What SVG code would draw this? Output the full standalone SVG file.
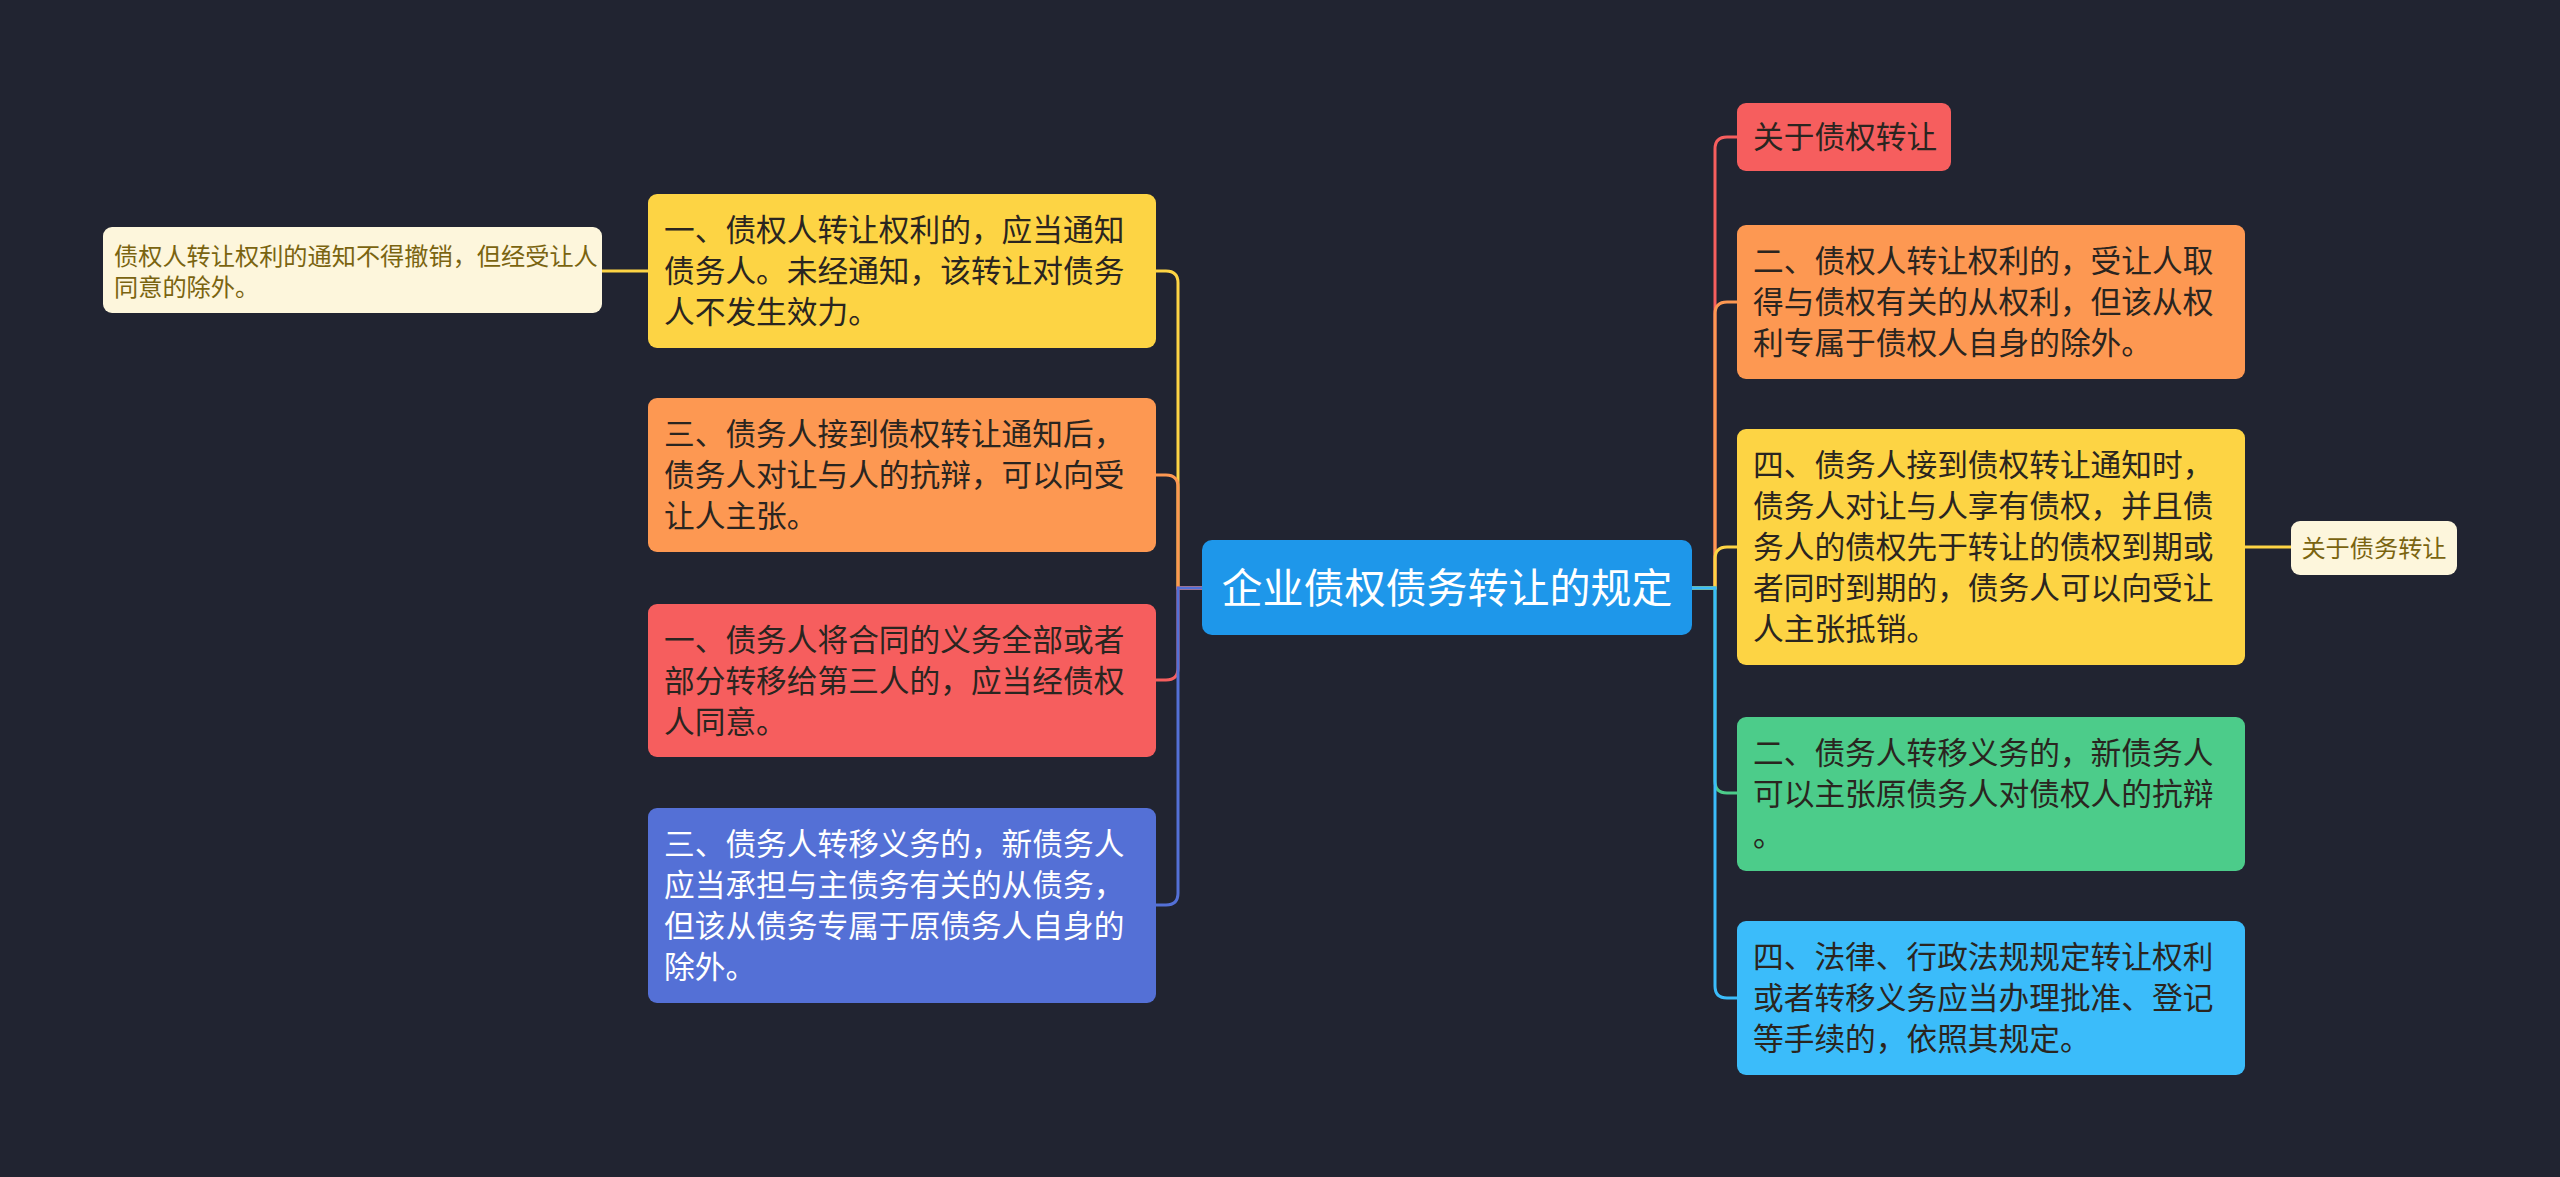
<svg xmlns="http://www.w3.org/2000/svg" width="2560" height="1177" viewBox="0 0 2560 1177">
<style>
.t{font-family:"Noto Sans CJK SC","Noto Sans",sans-serif;font-size:30.7px;fill:#2a2520}
.w{fill:#ffffff}
.s{font-size:24.2px;fill:#7a6410}
.c{font-size:41px;fill:#ffffff}
.ln{fill:none;stroke-width:3;stroke-linecap:round}
</style>
<rect width="2560" height="1177" fill="#212431"/>
<g id="connectors">
<path class="ln" stroke="#fdd444" d="M1202,588 H1178 V283 Q1178,271 1166,271 H1156"/>
<path class="ln" stroke="#fd9852" d="M1202,588 H1178 V487 Q1178,475 1166,475 H1156"/>
<path class="ln" stroke="#f65e5e" d="M1202,588 H1178 V668 Q1178,680 1166,680 H1156"/>
<path class="ln" stroke="#5470d6" d="M1202,588 H1178 V893 Q1178,905 1166,905 H1156"/>
<path class="ln" stroke="#fdd444" d="M648,271 H602"/>
<path class="ln" stroke="#f65e5e" d="M1691,588 H1715 V149 Q1715,137 1727,137 H1737"/>
<path class="ln" stroke="#fd9852" d="M1691,588 H1715 V314 Q1715,302 1727,302 H1737"/>
<path class="ln" stroke="#fdd444" d="M1691,588 H1715 V559 Q1715,547 1727,547 H1737"/>
<path class="ln" stroke="#4ccc8a" d="M1691,588 H1715 V781 Q1715,793 1727,793 H1737"/>
<path class="ln" stroke="#3bbcfa" d="M1691,588 H1715 V986 Q1715,998 1727,998 H1737"/>
<path class="ln" stroke="#fdd444" d="M2245,547 H2291"/>
</g>
<g id="center">
<rect x="1202" y="540" width="490" height="95" rx="10" fill="#1e97ea"/>
<text class="t c" x="1447" y="603" text-anchor="middle">企业债权债务转让的规定</text>
</g>
<g id="L1">
<rect x="648" y="194" width="508" height="154" rx="9" fill="#fdd444"/>
<text class="t" x="664" y="241">一、债权人转让权利的，应当通知</text>
<text class="t" x="664" y="282">债务人。未经通知，该转让对债务</text>
<text class="t" x="664" y="323">人不发生效力。</text>
</g>
<g id="L1a">
<rect x="103" y="227" width="499" height="86" rx="9" fill="#fdf6dc"/>
<text class="t s" x="114" y="265">债权人转让权利的通知不得撤销，但经受让人</text>
<text class="t s" x="114" y="296">同意的除外。</text>
</g>
<g id="L2">
<rect x="648" y="398" width="508" height="154" rx="9" fill="#fd9852"/>
<text class="t" x="664" y="445">三、债务人接到债权转让通知后，</text>
<text class="t" x="664" y="486">债务人对让与人的抗辩，可以向受</text>
<text class="t" x="664" y="527">让人主张。</text>
</g>
<g id="L3">
<rect x="648" y="604" width="508" height="153" rx="9" fill="#f65e5e"/>
<text class="t" x="664" y="651">一、债务人将合同的义务全部或者</text>
<text class="t" x="664" y="692">部分转移给第三人的，应当经债权</text>
<text class="t" x="664" y="733">人同意。</text>
</g>
<g id="L4">
<rect x="648" y="808" width="508" height="195" rx="9" fill="#5470d6"/>
<text class="t w" x="664" y="855">三、债务人转移义务的，新债务人</text>
<text class="t w" x="664" y="896">应当承担与主债务有关的从债务，</text>
<text class="t w" x="664" y="937">但该从债务专属于原债务人自身的</text>
<text class="t w" x="664" y="978">除外。</text>
</g>
<g id="R0">
<rect x="1737" y="103" width="214" height="68" rx="9" fill="#f65e5e"/>
<text class="t" x="1753" y="148">关于债权转让</text>
</g>
<g id="R1">
<rect x="1737" y="225" width="508" height="154" rx="9" fill="#fd9852"/>
<text class="t" x="1753" y="272">二、债权人转让权利的，受让人取</text>
<text class="t" x="1753" y="313">得与债权有关的从权利，但该从权</text>
<text class="t" x="1753" y="354">利专属于债权人自身的除外。</text>
</g>
<g id="R2">
<rect x="1737" y="429" width="508" height="236" rx="9" fill="#fdd444"/>
<text class="t" x="1753" y="476">四、债务人接到债权转让通知时，</text>
<text class="t" x="1753" y="517">债务人对让与人享有债权，并且债</text>
<text class="t" x="1753" y="558">务人的债权先于转让的债权到期或</text>
<text class="t" x="1753" y="599">者同时到期的，债务人可以向受让</text>
<text class="t" x="1753" y="640">人主张抵销。</text>
</g>
<g id="R2a">
<rect x="2291" y="521" width="166" height="54" rx="9" fill="#fdf6dc"/>
<text class="t s" x="2374" y="557" text-anchor="middle">关于债务转让</text>
</g>
<g id="R3">
<rect x="1737" y="717" width="508" height="154" rx="9" fill="#4ccc8a"/>
<text class="t" x="1753" y="764">二、债务人转移义务的，新债务人</text>
<text class="t" x="1753" y="805">可以主张原债务人对债权人的抗辩</text>
<text class="t" x="1753" y="846">。</text>
</g>
<g id="R4">
<rect x="1737" y="921" width="508" height="154" rx="9" fill="#3bbcfa"/>
<text class="t" x="1753" y="968">四、法律、行政法规规定转让权利</text>
<text class="t" x="1753" y="1009">或者转移义务应当办理批准、登记</text>
<text class="t" x="1753" y="1050">等手续的，依照其规定。</text>
</g>
</svg>
